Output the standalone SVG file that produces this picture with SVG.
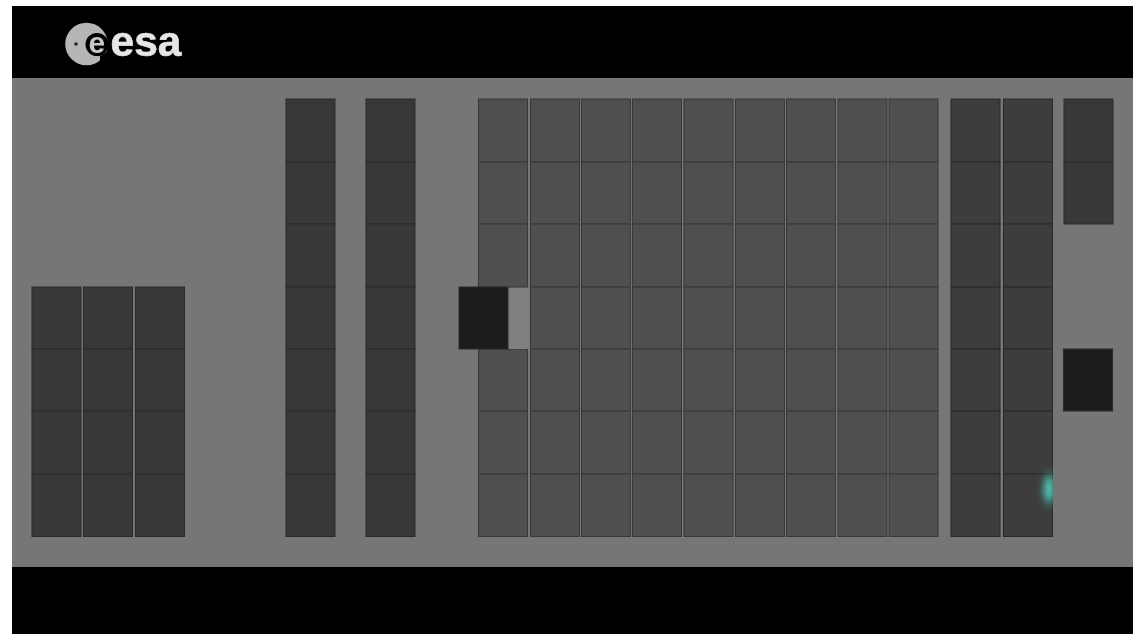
<svg xmlns="http://www.w3.org/2000/svg" width="1133" height="634" viewBox="0 0 1133 634">
<style>
.d{fill:#393939;stroke:#2a2a2a;stroke-width:1}
.m{fill:#4f4f4f;stroke:#383838;stroke-width:1}
.k{fill:#1c1c1c;stroke:#2a2a2a;stroke-width:1}
.logo{font-family:"Liberation Sans",Arial,sans-serif;font-weight:700;fill:#e6e6e6;stroke:#e6e6e6;stroke-width:.6}
</style>
<defs>
<filter id="b" x="-10%" y="-10%" width="120%" height="120%"><feGaussianBlur stdDeviation="0.7"/></filter>
<filter id="glow" x="-300%" y="-100%" width="700%" height="300%"><feGaussianBlur stdDeviation="3"/></filter>
<filter id="glow2" x="-300%" y="-100%" width="700%" height="300%"><feGaussianBlur stdDeviation="5"/></filter>
<clipPath id="gc"><rect x="1000" y="440" width="53" height="97"/></clipPath>
<g id="c4">
<rect x="0" y="287" width="49" height="62"/><rect x="0" y="349" width="49" height="62"/><rect x="0" y="411" width="49" height="63"/><rect x="0" y="474" width="49" height="62.500"/>
</g>
<g id="c3">
<rect x="0" y="99" width="49" height="63"/><rect x="0" y="162" width="49" height="62"/><rect x="0" y="224" width="49" height="63"/>
</g>
<g id="c7"><use href="#c3"/><use href="#c4"/></g>
</defs>
<rect width="1133" height="634" fill="#fff"/>
<rect x="12" y="6" width="1121" height="628" fill="#000"/>
<rect x="12" y="78" width="1121" height="489" fill="#767676"/>
<g filter="url(#b)">
<g id="left-block" class="d">
<use href="#c4" x="32"/><use href="#c4" x="83.500"/><use href="#c4" x="135.500"/>
</g>
<g id="columns" class="d">
<use href="#c7" x="286"/><use href="#c7" x="366"/>
</g>
<g id="main-grid" class="m">
<use href="#c3" x="478.500"/>
<rect x="478.500" y="349" width="49" height="62"/><rect x="478.500" y="411" width="49" height="63"/><rect x="478.500" y="474" width="49" height="62.500"/>
<use href="#c7" x="530.500"/><use href="#c7" x="581.500"/><use href="#c7" x="632.500"/><use href="#c7" x="684"/><use href="#c7" x="735.500"/><use href="#c7" x="786.500"/><use href="#c7" x="838"/><use href="#c7" x="889"/>
</g>
<g id="right-block" class="d">
<use href="#c7" x="951" style="fill:#3d3d3d"/><use href="#c7" x="1003.500" style="fill:#3d3d3d"/>
<rect x="1064" y="99" width="49" height="63"/><rect x="1064" y="162" width="49" height="62"/>
</g>
<rect id="gap" x="508" y="288" width="21.500" height="61" fill="#808080"/>
<rect id="removed-left" class="k" x="459" y="287" width="49" height="62"/>
<rect id="removed-right" class="k" x="1063.500" y="349" width="49" height="62"/>
</g>
<g id="glow-spot" clip-path="url(#gc)">
<ellipse cx="1050" cy="489" rx="7" ry="18" fill="#3fa898" opacity=".55" filter="url(#glow2)"/>
<ellipse cx="1049" cy="489" rx="4" ry="12" fill="#5ad6c4" opacity=".85" filter="url(#glow)"/>
</g>
<g id="logo" filter="url(#b)">
<circle cx="86.500" cy="44" r="21.300" fill="#b6b6b6"/>
<circle cx="76" cy="44" r="1.800" fill="#222"/>
<circle cx="97" cy="44.500" r="11.500" fill="#000"/>
<path d="M100 66L110 58L110 50L100 56z" fill="#000"/>
<text class="logo" x="88.500" y="53" font-size="30" style="fill:#c8c8c8;stroke:none">e</text>
<text class="logo" x="110.500" y="55.500" font-size="42.500">esa</text>
</g>
</svg>
